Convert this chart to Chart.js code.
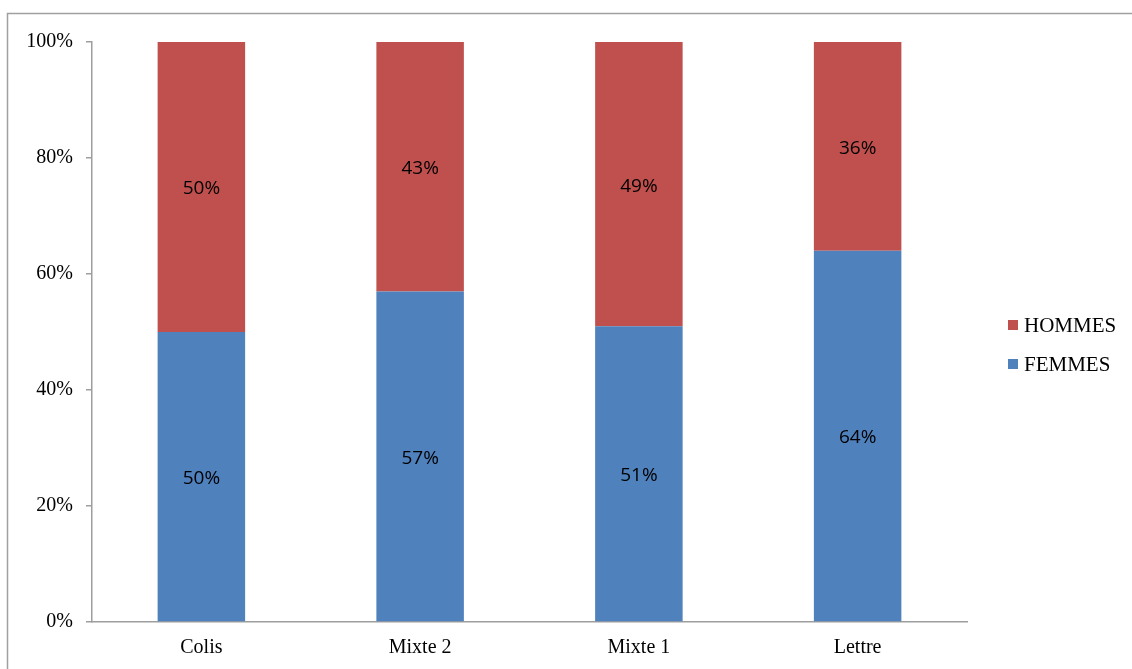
<!DOCTYPE html>
<html>
<head>
<meta charset="utf-8">
<script src="https://cdn.jsdelivr.net/npm/chart.js@4.4.1/dist/chart.umd.min.js"></script>
<style>
  html, body { margin: 0; padding: 0; background: #fff; }
  #wrap { position: absolute; left: 0; top: 0; width: 1132px; height: 669px; }
</style>
</head>
<body>
<div id="wrap"><canvas id="c" width="1132" height="669"></canvas></div>
<script>
const categories = ['Colis', 'Mixte 2', 'Mixte 1', 'Lettre'];
const femmes = [50, 57, 51, 64];
const hommes = [50, 43, 49, 36];
const yTicks = [0, 20, 40, 60, 80, 100];

const BLUE = '#4F81BD';
const RED = '#C0504D';
const AXIS = '#9e9e9e';
const SERIF = '"Liberation Serif", "Times New Roman", serif';
const SANS = '"Open Sans", "Liberation Sans", sans-serif';

const frame = {
  id: 'frame',
  beforeDraw(chart) {
    const ctx = chart.ctx;
    ctx.save();
    ctx.fillStyle = '#fff';
    ctx.fillRect(0, 0, chart.width, chart.height);
    ctx.strokeStyle = '#a0a0a0';
    ctx.lineWidth = 1.5;
    ctx.beginPath();
    ctx.moveTo(7.5, chart.height);
    ctx.lineTo(7.5, 13.5);
    ctx.lineTo(chart.width, 13.5);
    ctx.stroke();
    ctx.restore();
  }
};

const valueLabels = {
  id: 'valueLabels',
  afterDatasetsDraw(chart) {
    const ctx = chart.ctx;
    ctx.save();
    ctx.font = '19px ' + SANS;
    ctx.fillStyle = '#000';
    ctx.textAlign = 'center';
    ctx.textBaseline = 'middle';
    chart.data.datasets.forEach((ds, di) => {
      const meta = chart.getDatasetMeta(di);
      meta.data.forEach((el, i) => {
        const yc = (el.y + el.base) / 2 + 2;
        ctx.fillText(ds.data[i] + '%', el.x, yc);
      });
    });
    ctx.restore();
  }
};

const sideLegend = {
  id: 'sideLegend',
  afterDraw(chart) {
    const ctx = chart.ctx;
    const items = chart.data.datasets.slice().reverse();
    ctx.save();
    ctx.font = '21px ' + SERIF;
    ctx.textAlign = 'left';
    ctx.textBaseline = 'middle';
    items.forEach((ds, k) => {
      const yc = 325 + k * 39;
      ctx.fillStyle = ds.backgroundColor;
      ctx.fillRect(1008, yc - 5, 10, 10);
      ctx.fillStyle = '#000';
      ctx.fillText(ds.label, 1024, yc + 1);
    });
    ctx.restore();
  }
};

new Chart(document.getElementById('c'), {
  type: 'bar',
  data: {
    labels: categories,
    datasets: [
      { label: 'FEMMES', data: femmes, backgroundColor: BLUE, borderWidth: 0 },
      { label: 'HOMMES', data: hommes, backgroundColor: RED, borderWidth: 0 }
    ]
  },
  options: {
    responsive: false,
    animation: false,
    devicePixelRatio: 1,
    layout: { padding: { left: 0, top: 42, right: 165, bottom: 0 } },
    datasets: { bar: { categoryPercentage: 1.0, barPercentage: 0.4 } },
    plugins: {
      legend: { display: false },
      tooltip: { enabled: false }
    },
    scales: {
      x: {
        stacked: true,
        grid: { display: false, drawTicks: false },
        border: { display: true, color: AXIS, width: 1.5 },
        ticks: { color: '#000', font: { family: SERIF, size: 20 }, padding: 14 },
        afterFit(scale) { scale.height = 47; }
      },
      y: {
        stacked: true,
        min: 0,
        max: 100,
        afterBuildTicks(scale) { scale.ticks = yTicks.map(v => ({ value: v })); },
        grid: { display: true, drawOnChartArea: false, drawTicks: true, tickLength: 6, color: AXIS, lineWidth: 1.5 },
        border: { display: true, color: AXIS, width: 1.5 },
        ticks: {
          color: '#000',
          font: { family: SERIF, size: 20 },
          padding: 13,
          callback: v => v + '%'
        },
        afterFit(scale) { scale.width = 92; }
      }
    }
  },
  plugins: [frame, valueLabels, sideLegend]
});
</script>
</body>
</html>
